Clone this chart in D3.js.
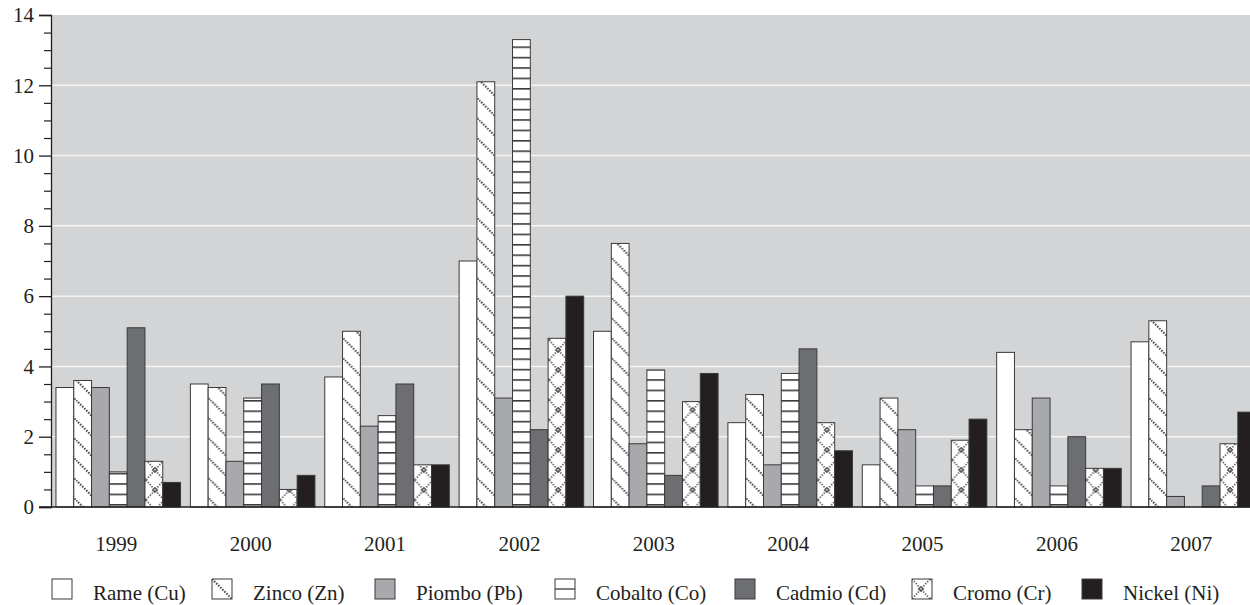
<!DOCTYPE html>
<html lang="it">
<head>
    <meta charset="UTF-8">
    <title>Metalli</title>
    <style>
        body { margin: 0; background: #ffffff; }
        svg text { font-family: "Liberation Serif", "Times New Roman", Times, Tinos, "Nimbus Roman", "Noto Serif", "DejaVu Serif", FreeSerif, serif; fill: #231f20; }
    </style>
</head>
<body>
    <div id="chart"></div>
    <script src="https://cdnjs.cloudflare.com/ajax/libs/d3/7.8.5/d3.min.js"></script>
    <script>
        // data
        const years = ["1999", "2000", "2001", "2002", "2003", "2004", "2005", "2006", "2007"];
        const metals = ["Rame (Cu)", "Zinco (Zn)", "Piombo (Pb)", "Cobalto (Co)", "Cadmio (Cd)", "Cromo (Cr)", "Nickel (Ni)"];
        const rame    = [3.4, 3.5, 3.7, 7.0, 5.0, 2.4, 1.2, 4.4, 4.7];
        const zinco   = [3.6, 3.4, 5.0, 12.1, 7.5, 3.2, 3.1, 2.2, 5.3];
        const piombo  = [3.4, 1.3, 2.3, 3.1, 1.8, 1.2, 2.2, 3.1, 0.3];
        const cobalto = [1.0, 3.1, 2.6, 13.3, 3.9, 3.8, 0.6, 0.6, 0];
        const cadmio  = [5.1, 3.5, 3.5, 2.2, 0.9, 4.5, 0.6, 2.0, 0.6];
        const cromo   = [1.3, 0.5, 1.2, 4.8, 3.0, 2.4, 1.9, 1.1, 1.8];
        const nickel  = [0.7, 0.9, 1.2, 6.0, 3.8, 1.6, 2.5, 1.1, 2.7];
        const yTicks  = [0, 2, 4, 6, 8, 10, 12, 14];

        const series = [rame, zinco, piombo, cobalto, cadmio, cromo, nickel];
        const fills = ["#ffffff", "url(#zinco)", "#a8a9ac", "url(#cobalto)", "#6d6e71", "url(#cromo)", "#231f20"];

        const W = 1250, H = 605;
        const mLeft = 51, mTop = 15, mBottom = 507;

        const svg = d3.select('#chart')
            .append('svg')
            .attr('width', W)
            .attr('height', H);

        const defs = svg.append('defs');

        // zinco: dotted diagonal stripes
        const pz = defs.append('pattern')
            .attr('id', 'zinco')
            .attr('patternUnits', 'userSpaceOnUse')
            .attr('width', 20).attr('height', 20);
        pz.append('rect').attr('width', 20).attr('height', 20).attr('fill', '#fff');
        pz.append('line')
            .attr('x1', 0).attr('y1', 0).attr('x2', 20).attr('y2', 20)
            .attr('stroke', '#555').attr('stroke-width', 2.2)
            .attr('stroke-dasharray', '1.6,1.3');

        // cobalto: horizontal lines
        const pc = defs.append('pattern')
            .attr('id', 'cobalto')
            .attr('patternUnits', 'userSpaceOnUse')
            .attr('patternTransform', 'translate(0,' + (mBottom - 3) + ')')
            .attr('width', 20).attr('height', 10.4);
        pc.append('rect').attr('width', 20).attr('height', 10.4).attr('fill', '#fff');
        pc.append('line')
            .attr('x1', 0).attr('y1', 0.8).attr('x2', 20).attr('y2', 0.8)
            .attr('stroke', '#3a3a3a').attr('stroke-width', 1.6);

        // cromo: dotted lattice with small diamonds
        const pr = defs.append('pattern')
            .attr('id', 'cromo')
            .attr('patternUnits', 'userSpaceOnUse')
            .attr('width', 18).attr('height', 20);
        pr.append('rect').attr('width', 18).attr('height', 20).attr('fill', '#fff');
        [[0, 0, 18, 20], [18, 0, 0, 20]].forEach(function (l) {
            pr.append('line')
                .attr('x1', l[0]).attr('y1', l[1]).attr('x2', l[2]).attr('y2', l[3])
                .attr('stroke', '#666').attr('stroke-width', 1.8)
                .attr('stroke-dasharray', '1.4,1.4');
        });
        pr.append('path')
            .attr('d', 'M9,7.5 L11.5,10 L9,12.5 L6.5,10 Z')
            .attr('fill', 'none').attr('stroke', '#555').attr('stroke-width', 1.2);

        const x0 = d3.scaleBand()
            .domain(years)
            .range([mLeft, mLeft + 9 * 134.4])
            .paddingInner(0.073)
            .paddingOuter(0.037);

        const x1 = d3.scaleBand()
            .domain(d3.range(metals.length))
            .range([0, x0.bandwidth()]);

        const y = d3.scaleLinear()
            .domain([0, 14])
            .range([mBottom, mTop]);

        // plot background
        svg.append('rect')
            .attr('x', mLeft).attr('y', y(14))
            .attr('width', W - mLeft).attr('height', mBottom - y(14))
            .attr('fill', '#d3d4d6');

        // gridlines
        svg.append('g')
            .selectAll('line')
            .data(yTicks.filter(d => d > 0 && d < 14))
            .join('line')
            .attr('x1', mLeft).attr('x2', W)
            .attr('y1', d => y(d)).attr('y2', d => y(d))
            .attr('stroke', '#f4f4f4').attr('stroke-width', 1.5);

        // bars
        const groups = svg.append('g')
            .selectAll('g')
            .data(years)
            .join('g')
            .attr('transform', d => 'translate(' + x0(d) + ',0)');

        groups.selectAll('rect')
            .data((yr, i) => series.map((s, k) => ({ k: k, v: s[i] })).filter(d => d.v > 0))
            .join('rect')
            .attr('x', d => x1(d.k))
            .attr('y', d => y(d.v))
            .attr('width', x1.bandwidth())
            .attr('height', d => mBottom - y(d.v))
            .attr('fill', d => fills[d.k])
            .attr('stroke', '#3a3a3a')
            .attr('stroke-width', 1);

        // y axis
        const yAxis = d3.axisLeft(y)
            .tickValues(yTicks)
            .tickSize(12)
            .tickPadding(5)
            .tickFormat(d3.format('d'));
        const ga = svg.append('g')
            .attr('transform', 'translate(' + mLeft + ',0)')
            .call(yAxis)
            .attr('font-family', null)
            .attr('font-size', 21);
        ga.select('.domain').attr('stroke', '#231f20').attr('stroke-width', 1.3);
        ga.selectAll('.tick line').attr('stroke', '#231f20').attr('stroke-width', 1.3);
        ga.selectAll('.tick text').attr('fill', '#231f20');

        const minor = svg.append('g')
            .attr('transform', 'translate(' + mLeft + ',0)')
            .call(d3.axisLeft(y).tickValues(d3.range(0, 14, 0.5).filter(d => d % 2 !== 0)).tickSize(7).tickFormat(''));
        minor.select('.domain').remove();
        minor.selectAll('.tick line').attr('stroke', '#231f20').attr('stroke-width', 1.2);

        // baseline
        svg.append('line')
            .attr('x1', mLeft - 12).attr('x2', W)
            .attr('y1', mBottom).attr('y2', mBottom)
            .attr('stroke', '#231f20').attr('stroke-width', 1.3);

        // year labels
        svg.append('g')
            .selectAll('text')
            .data(years)
            .join('text')
            .attr('x', d => x0(d) + x0.bandwidth() / 2 - 2)
            .attr('y', 551)
            .attr('text-anchor', 'middle')
            .attr('font-size', 21)
            .text(d => d);

        // legend
        const legendBox = [52, 212, 375, 555, 735, 912, 1082];
        const legend = svg.append('g')
            .selectAll('g')
            .data(metals)
            .join('g')
            .attr('transform', (d, i) => 'translate(' + legendBox[i] + ',579)');
        legend.append('rect')
            .attr('width', 20).attr('height', 20)
            .attr('fill', (d, i) => i === 3 ? '#fff' : fills[i])
            .attr('stroke', '#3a3a3a').attr('stroke-width', 1);
        legend.filter((d, i) => i === 3)
            .append('line')
            .attr('x1', 0).attr('x2', 20).attr('y1', 10).attr('y2', 10)
            .attr('stroke', '#3a3a3a').attr('stroke-width', 1.3);
        legend.append('text')
            .attr('x', 41)
            .attr('y', 21)
            .attr('font-size', 21)
            .text(d => d);
    </script>
</body>
</html>
